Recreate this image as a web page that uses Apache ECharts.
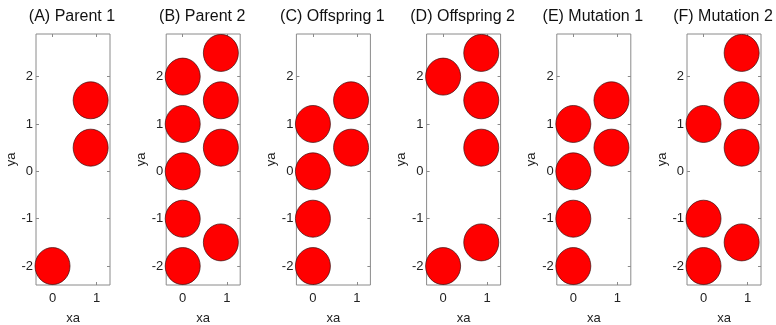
<!DOCTYPE html>
<html>
<head>
<meta charset="utf-8">
<script src="https://cdn.jsdelivr.net/npm/echarts@6/dist/echarts.min.js"></script>
<style>html,body{margin:0;padding:0;background:#fff}#c{width:776px;height:325px}</style>
</head>
<body>
<div id="c"></div>
<script>
// Data
const panelTitles = ['(A) Parent 1', '(B) Parent 2', '(C) Offspring 1', '(D) Offspring 2', '(E) Mutation 1', '(F) Mutation 2'];
const colX = [0, 0.866];
const leftColY = [
  [-2],
  [-2, -1, 0, 1, 2],
  [-2, -1, 0, 1],
  [-2, 2],
  [-2, -1, 0, 1],
  [-2, -1, 1]
];
const rightColY = [
  [0.5, 1.5],
  [-1.5, 0.5, 1.5, 2.5],
  [0.5, 1.5],
  [-1.5, 0.5, 1.5, 2.5],
  [0.5, 1.5],
  [-1.5, 0.5, 1.5, 2.5]
];
const xTicks = [0, 1];
const yTicks = [-2, -1, 0, 1, 2];
const xName = 'xa';
const yName = 'ya';

const font = 'Liberation Sans, Arial, Helvetica, sans-serif';
const grids = [], xAxes = [], yAxes = [], series = [], graphics = [];
const boxColor = '#8a8a8a';
const xmin = -0.375, xmax = 1.305, ymin = -2.4, ymax = 2.9;
for (let i = 0; i < 6; i++) {
  const left = 36 + 130.2 * i;
  const w = 74;
  grids.push({left: left, top: 34, width: w, height: 251, show: true, borderColor: boxColor, borderWidth: 1,
    backgroundColor: '#fff', containLabel: false, outerBoundsMode: 'none'});
  graphics.push({type: 'text', x: left + w / 2 - 1, y: 17, silent: true,
    style: {text: panelTitles[i], align: 'center', verticalAlign: 'middle', font: '16px ' + font, fill: '#111'}});
  xAxes.push({type: 'value', gridIndex: i, position: 'bottom', min: xmin, max: xmax,
    name: xName, nameLocation: 'middle', nameGap: 27, nameTextStyle: {fontFamily: font, fontSize: 13, color: '#222'},
    axisLine: {show: false, onZero: false}, splitLine: {show: false},
    axisTick: {show: true, inside: true, length: 3, customValues: xTicks, lineStyle: {color: boxColor}},
    axisLabel: {show: true, customValues: xTicks, fontFamily: font, fontSize: 13, color: '#222', margin: 7}});
  xAxes.push({type: 'value', gridIndex: i, position: 'top', min: xmin, max: xmax,
    axisLine: {show: false, onZero: false}, splitLine: {show: false},
    axisTick: {show: true, inside: true, length: 3, customValues: xTicks, lineStyle: {color: boxColor}},
    axisLabel: {show: false}});
  yAxes.push({type: 'value', gridIndex: i, position: 'left', min: ymin, max: ymax,
    name: yName, nameLocation: 'middle', nameGap: 17, nameTextStyle: {fontFamily: font, fontSize: 13, color: '#222'},
    axisLine: {show: false, onZero: false}, splitLine: {show: false},
    axisTick: {show: true, inside: true, length: 3, customValues: yTicks, lineStyle: {color: boxColor}},
    axisLabel: {show: true, customValues: yTicks, fontFamily: font, fontSize: 13, color: '#222', margin: 3}});
  yAxes.push({type: 'value', gridIndex: i, position: 'right', min: ymin, max: ymax,
    axisLine: {show: false, onZero: false}, splitLine: {show: false},
    axisTick: {show: true, inside: true, length: 3, customValues: yTicks, lineStyle: {color: boxColor}},
    axisLabel: {show: false}});
  const pts = [];
  leftColY[i].forEach(y => pts.push([colX[0], y]));
  rightColY[i].forEach(y => pts.push([colX[1], y]));
  series.push({type: 'scatter', xAxisIndex: 2 * i, yAxisIndex: 2 * i, data: pts,
    symbol: 'circle', symbolSize: [35, 37], silent: true,
    itemStyle: {color: '#ff0000', borderColor: '#3a1010', borderWidth: 0.7, opacity: 1}});
}
const chart = echarts.init(document.getElementById('c'), null, {renderer: 'canvas'});
chart.setOption({animation: false, backgroundColor: '#fff', graphic: graphics, grid: grids, xAxis: xAxes, yAxis: yAxes, series: series});
</script>
</body>
</html>
